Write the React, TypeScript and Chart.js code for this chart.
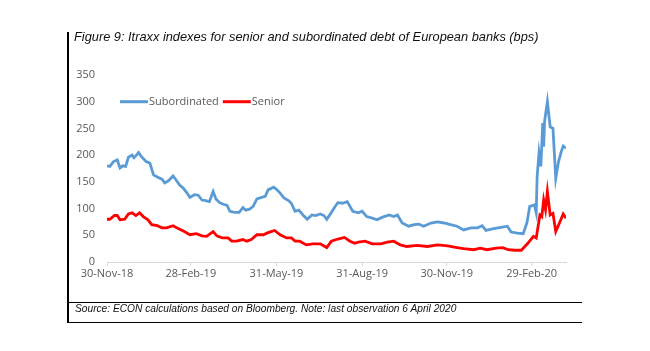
import React, { useEffect, useRef } from "react";
import { Chart, registerables } from "chart.js";

Chart.register(...registerables);

// x values: days since 30-Nov-2018
const subDays = [0, 3, 7, 11, 14, 17, 20, 23, 27, 29, 34, 37, 42, 46, 50, 54, 59, 62, 66, 71, 74, 78, 82, 86, 89, 94, 98, 102, 106, 110, 114, 117, 121, 125, 129, 132, 137, 142, 146, 149, 153, 157, 161, 166, 170, 173, 179, 182, 186, 190, 195, 198, 202, 206, 211, 215, 220, 224, 229, 233, 236, 240, 245, 248, 253, 258, 264, 270, 274, 279, 285, 290, 296, 303, 308, 312, 317, 324, 330, 335, 340, 348, 355, 362, 369, 376, 383, 391, 398, 403, 407, 414, 423, 430, 434, 441, 447, 451, 454, 459, 461, 462, 464, 466, 468, 469, 470, 473, 476, 479, 482, 485, 488, 490, 493];
const subValues = [180, 179, 188, 191, 176, 180, 179, 196, 200, 195, 205, 197, 188, 185, 163, 159, 155, 148, 152, 161, 154, 144, 138, 129, 121, 126, 125, 116, 115, 113, 132, 118, 111, 108, 106, 95, 93, 93, 102, 97, 99, 104, 118, 121, 123, 135, 140, 136, 129, 120, 115, 110, 95, 97, 87, 80, 88, 87, 90, 87, 80, 90, 104, 111, 110, 113, 95, 92, 95, 85, 82, 79, 84, 88, 85, 88, 73, 67, 70, 71, 67, 73, 75, 73, 70, 67, 60, 64, 64, 68, 59, 62, 65, 67, 56, 54, 53, 73, 104, 107, 92, 160, 204, 179, 260, 216, 263, 300, 253, 250, 157, 188, 207, 217, 213];

const senDays = [0, 3, 8, 11, 14, 19, 23, 27, 31, 35, 39, 44, 48, 54, 59, 64, 71, 77, 83, 89, 96, 102, 107, 114, 118, 124, 130, 134, 139, 146, 150, 155, 161, 168, 173, 180, 186, 193, 198, 202, 207, 214, 221, 229, 236, 241, 248, 255, 261, 266, 270, 277, 285, 294, 301, 308, 315, 322, 333, 344, 355, 366, 376, 383, 394, 401, 408, 418, 425, 431, 438, 445, 452, 458, 461, 465, 467, 469, 471, 473, 476, 479, 482, 486, 490, 493];
const senValues = [80, 80, 87, 87, 79, 80, 90, 92, 87, 92, 85, 79, 70, 68, 64, 64, 68, 62, 57, 51, 53, 49, 48, 57, 49, 45, 45, 39, 39, 42, 39, 42, 51, 51, 55, 59, 51, 45, 45, 39, 39, 32, 34, 34, 27, 39, 43, 46, 39, 35, 37, 39, 34, 34, 37, 39, 32, 29, 31, 29, 32, 30, 27, 25, 23, 26, 23, 26, 27, 23, 22, 22, 35, 48, 45, 88, 85, 116, 98, 132, 88, 91, 57, 73, 90, 82];

const tickDays = [0, 90, 182, 274, 365, 456];
const tickLabels = ["30-Nov-18", "28-Feb-19", "31-May-19", "31-Aug-19", "30-Nov-19", "29-Feb-20"];

const seriesNames = ["Subordinated", "Senior"];
const seriesColors = ["#5b9bd5", "#ff0000"];

const titleText = "Figure 9: Itraxx indexes for senior and subordinated debt of European banks (bps)";
const sourceText = "Source: ECON calculations based on Bloomberg. Note: last observation 6 April 2020";

const FONT = "'Open Sans', 'Noto Sans', sans-serif";

const legendPlugin = {
  id: "inlineLegend",
  afterDatasetsDraw(chart: any) {
    const ctx = chart.ctx;
    const left = chart.chartArea.left;
    const yPix = chart.scales.y.getPixelForValue(300);
    ctx.save();
    ctx.font = `11px ${FONT}`;
    ctx.textBaseline = "middle";
    let x = left + 13;
    chart.data.datasets.forEach((ds: any) => {
      ctx.strokeStyle = ds.borderColor;
      ctx.lineWidth = 3;
      ctx.beginPath();
      ctx.moveTo(x, yPix);
      ctx.lineTo(x + 28, yPix);
      ctx.stroke();
      x += 29;
      ctx.fillStyle = "#595959";
      ctx.fillText(ds.label, x, yPix);
      x += ctx.measureText(ds.label).width + 4;
    });
    ctx.restore();
  },
};

export default function App() {
  const ref = useRef<HTMLCanvasElement>(null);

  useEffect(() => {
    document.body.style.margin = "0";
    const canvas = ref.current!;
    const chart = new Chart(canvas, {
      type: "line",
      data: {
        datasets: [
          {
            label: seriesNames[0],
            data: subDays.map((d, i) => ({ x: d, y: subValues[i] })),
            borderColor: seriesColors[0],
            backgroundColor: seriesColors[0],
            borderWidth: 2.8,
            pointRadius: 0,
            tension: 0,
          },
          {
            label: seriesNames[1],
            data: senDays.map((d, i) => ({ x: d, y: senValues[i] })),
            borderColor: seriesColors[1],
            backgroundColor: seriesColors[1],
            borderWidth: 2.8,
            pointRadius: 0,
            tension: 0,
          },
        ],
      },
      options: {
        animation: false,
        responsive: false,
        maintainAspectRatio: false,
        layout: { padding: { left: 0, top: 75, right: 84, bottom: 59 } },
        plugins: {
          legend: { display: false },
          tooltip: { enabled: false },
        },
        scales: {
          x: {
            type: "linear",
            min: 0,
            max: 493,
            afterBuildTicks: (scale: any) => {
              scale.ticks = tickDays.map((v) => ({ value: v }));
            },
            afterFit: (scale: any) => {
              scale.height = 30;
            },
            ticks: {
              autoSkip: false,
              maxRotation: 0,
              padding: 1,
              color: "#595959",
              font: { family: FONT, size: 11 },
              callback: (_v: any, i: number) => tickLabels[i],
            },
            grid: {
              drawOnChartArea: false,
              drawTicks: true,
              tickLength: 4,
              color: "#d9d9d9",
            },
            border: { color: "#d9d9d9", width: 1 },
          },
          y: {
            min: 0,
            max: 350,
            afterFit: (scale: any) => {
              scale.width = 107;
            },
            ticks: {
              stepSize: 50,
              padding: 12,
              color: "#595959",
              font: { family: FONT, size: 11 },
            },
            grid: { display: false, drawTicks: false },
            border: { display: false },
          },
        },
      },
      plugins: [legendPlugin],
    });
    return () => chart.destroy();
  }, []);

  return (
    <div style={{ position: "fixed", left: 0, top: 0, width: 650, height: 351, background: "#fff", overflow: "hidden" }}>
      <canvas ref={ref} width={650} height={351} style={{ position: "absolute", left: 0, top: 0, width: 650, height: 351 }} />
      <div style={{ position: "absolute", left: 67, top: 32, width: 1.5, height: 291, background: "#000" }} />
      <div style={{ position: "absolute", left: 67, top: 301.5, width: 515, height: 1.5, background: "#000" }} />
      <div style={{ position: "absolute", left: 67, top: 321.5, width: 515, height: 1.5, background: "#000" }} />
      <div
        style={{
          position: "absolute",
          left: 74,
          top: 29,
          fontFamily: "'Liberation Sans', Arial, sans-serif",
          fontStyle: "italic",
          fontSize: 12.8,
          lineHeight: "16px",
          color: "#111",
          whiteSpace: "nowrap",
        }}
      >
        {titleText}
      </div>
      <div
        style={{
          position: "absolute",
          left: 75,
          top: 302,
          fontFamily: "'Liberation Sans', Arial, sans-serif",
          fontStyle: "italic",
          fontSize: 10.2,
          lineHeight: "14px",
          color: "#111",
          whiteSpace: "nowrap",
        }}
      >
        {sourceText}
      </div>
    </div>
  );
}
